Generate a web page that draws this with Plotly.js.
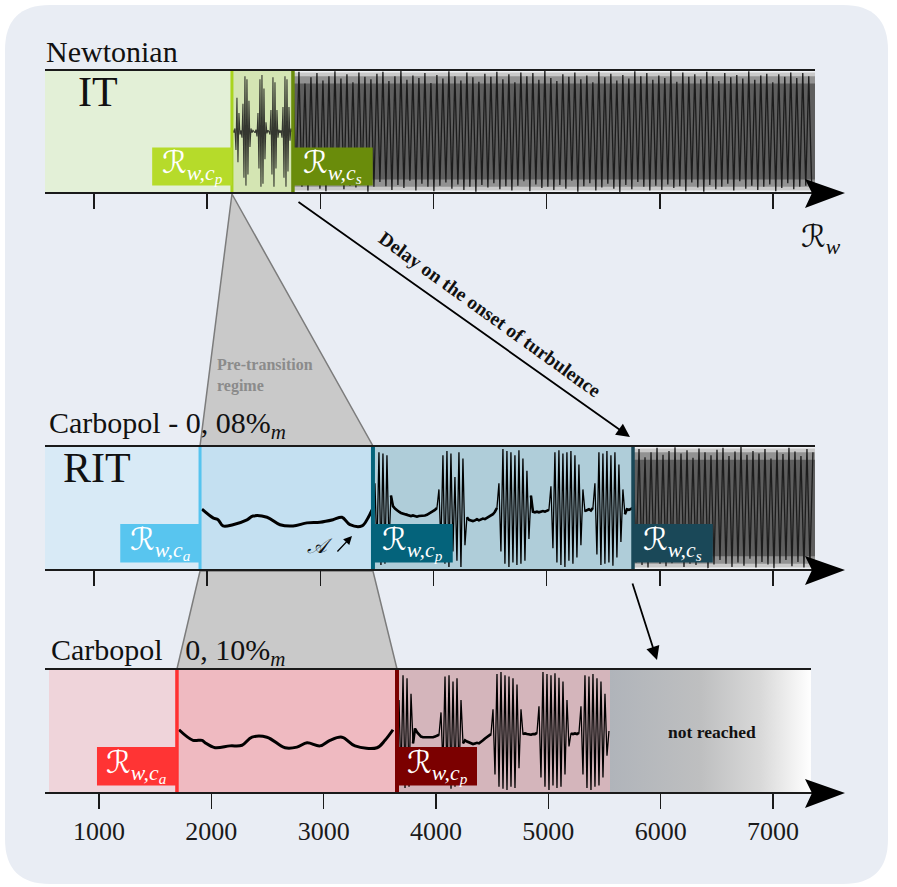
<!DOCTYPE html>
<html><head><meta charset="utf-8">
<script src="https://cdn.plot.ly/plotly-3.0.1.min.js"></script>
<style>html,body{margin:0;padding:0;background:#fff}#chart{width:897px;height:887px}</style>
</head><body><div id="chart"></div>
<script>
// ---------------- DATA ----------------
const tickVals = [1000, 2000, 3000, 4000, 5000, 6000, 7000];
// region boundaries (Rw values)
const newtonianBounds = [567, 2219, 2758, 7371];          // start, Rw,cp, Rw,cs, end
const c008Bounds = [567, 1937, 3465, 5763, 7371];         // start, Rw,ca, Rw,cp, Rw,cs, end
const c010Bounds = [555, 1694, 3653, 5549, 7338];         // start, Rw,ca, Rw,cp, last measured, end

// Newtonian: intermittent bursts between Rw,cp and Rw,cs
const newtIntermittentX0 = 2219, newtIntermittentDx = 8.84;
const newtIntermittentY = [0,0.02,-0.02,0.05,-0.3,0.55,-0.5,0.3,-0.05,0.02,
  -0.1,0.45,-0.75,0.9,-0.88,0.85,-0.7,0.5,-0.25,0.05,
  -0.02,0.02,0,-0.02,0.03,-0.08,0.3,-0.6,0.85,-0.9,
  0.92,-0.85,0.7,-0.45,0.15,-0.03,0.02,0,-0.05,0.35,
  -0.7,0.88,-0.9,0.8,-0.6,0.35,-0.1,0.03,-0.02,0.02,
  -0.1,0.4,-0.75,0.9,-0.9,0.85,-0.65,0.4,-0.15,0.05,0,0];
// Newtonian: turbulent signal after Rw,cs
const newtTurbX0 = 2758, newtTurbDx = 26.5;
const newtTurbY = [0.92,-0.85,0.97,-0.9,0.78,-0.96,0.88,-0.8,0.95,-0.93,
 0.83,-0.97,0.9,-0.86,0.98,-0.79,0.86,-0.94,0.93,-0.88,
 0.8,-0.91,0.96,-0.84,0.89,-0.98,0.85,-0.9,0.94,-0.82,
 0.97,-0.89,0.82,-0.95,0.9,-0.87,0.99,-0.92,0.84,-0.8,
 0.91,-0.96,0.87,-0.85,0.95,-0.9,0.79,-0.97,0.92,-0.88,
 0.86,-0.83,0.98,-0.93,0.9,-0.86,0.83,-0.95,0.96,-0.9,
 0.88,-0.98,0.81,-0.87,0.94,-0.91,0.89,-0.84,0.97,-0.94,
 0.85,-0.89,0.93,-0.96,0.8,-0.88,0.96,-0.81,0.9,-0.97,
 0.95,-0.86,0.84,-0.92,0.99,-0.9,0.87,-0.95,0.82,-0.87,
 0.93,-0.93,0.89,-0.8,0.96,-0.98,0.85,-0.89,0.91,-0.84,
 0.8,-0.96,0.97,-0.91,0.88,-0.85,0.94,-0.93,0.83,-0.99,
 0.92,-0.87,0.86,-0.94,0.98,-0.82,0.9,-0.9,0.95,-0.96,
 0.84,-0.88,0.91,-0.95,0.87,-0.86,0.99,-0.92,0.81,-0.89,
 0.96,-0.97,0.89,-0.83,0.93,-0.91,0.85,-0.98,0.97,-0.87,
 0.9,-0.94,0.82,-0.9,0.95,-0.85,0.88,-0.96,0.92,-0.81,
 0.86,-0.93,0.98,-0.88,0.84,-0.95,0.91,-0.9,0.94,-0.86,
 0.8,-0.97,0.93,-0.92,0.89,-0.84,0.96,-0.94,0.87,-0.9,
 0.95,-0.88,0.9,-0.93];

// Carbopol 0,08%: pre-transition laminar wave (Rw,ca -> Rw,cp)
const c008LamX = [1954,2052,2096,2140,2228,2352,2405,2529,2644,2759,2882,2997,3112,3191,3262,3368,3421,3457];
const c008LamY = [-0.02,-0.16,-0.19,-0.29,-0.27,-0.19,-0.13,-0.15,-0.27,-0.29,-0.24,-0.23,-0.19,-0.15,-0.27,-0.29,-0.16,-0.03];
// Carbopol 0,08%: intermittent bursts (Rw,cp -> Rw,cs)
const c008BurstX0 = 3465, c008BurstDx = 17.67;
const c008BurstY = [-0.03,
 0.4,-0.7,0.9,-0.92,0.88,-0.9,0.85,-0.6,0.2,
 0.03,-0.01,-0.04,-0.06,-0.08,-0.09,-0.1,-0.1,-0.12,-0.13,-0.12,-0.13,-0.14,-0.13,-0.13,-0.12,-0.12,-0.11,-0.09,-0.08,-0.05,-0.03,0.0,
 0.3,-0.6,0.85,-0.9,0.92,-0.95,0.88,-0.7,0.5,-0.85,0.9,-0.95,0.8,-0.6,-0.15,
 -0.19,-0.2,-0.21,-0.2,-0.18,-0.2,-0.19,-0.17,-0.18,-0.16,-0.14,-0.12,-0.1,-0.06,0.0,
 0.4,-0.7,0.95,-0.9,0.92,-0.95,0.9,-0.88,0.85,-0.92,0.93,-0.9,0.8,-0.85,0.6,-0.5,0.2,-0.06,
 -0.07,-0.06,-0.07,-0.06,-0.05,-0.06,-0.05,-0.03,
 0.35,-0.65,0.9,-0.88,0.93,-0.92,0.88,-0.95,0.9,-0.85,0.92,-0.9,0.85,-0.8,0.7,-0.6,0.3,-0.05,
 -0.03,-0.02,-0.04,0.0,
 0.4,-0.75,0.9,-0.92,0.88,-0.9,0.92,-0.88,0.85,-0.93,0.9,-0.8,0.7,-0.55,0.3,-0.1,
 -0.02,-0.03,-0.02,0.0];
// Carbopol 0,08%: turbulent signal after Rw,cs
const c008TurbX0 = 5763, c008TurbDx = 26.5;
const c008TurbY = [0.9,-0.88,0.95,-0.92,0.82,-0.96,0.9,-0.85,0.97,-0.9,
  0.86,-0.94,0.92,-0.89,0.98,-0.83,0.88,-0.95,0.93,-0.9,
  0.81,-0.92,0.96,-0.86,0.9,-0.97,0.85,-0.91,0.94,-0.84,
  0.97,-0.9,0.84,-0.95,0.91,-0.88,0.99,-0.93,0.86,-0.82,
  0.92,-0.96,0.88,-0.87,0.95,-0.91,0.8,-0.97,0.93,-0.89,
  0.87,-0.84,0.97,-0.94,0.91,-0.87,0.84,-0.96,0.95,-0.9,0.9];

// Carbopol 0,10%: pre-transition laminar wave (Rw,ca -> Rw,cp)
const c010LamX = [1712,1837,1917,1944,2033,2166,2273,2362,2495,2656,2762,2852,2967,3056,3163,3279,3475,3546,3617];
const c010LamY = [0.02,-0.15,-0.15,-0.19,-0.27,-0.24,-0.23,-0.10,-0.10,-0.27,-0.26,-0.19,-0.24,-0.15,-0.10,-0.24,-0.27,-0.15,0.02];
// Carbopol 0,10%: intermittent bursts (Rw,cp -> last measured)
const c010BurstX0 = 3653, c010BurstDx = 17.8;
const c010BurstY = [0.02,
 0.5,-0.8,0.9,-0.92,0.85,-0.9,0.6,-0.2,
 0.04,-0.02,-0.06,-0.09,-0.1,-0.1,-0.11,-0.1,-0.1,-0.1,-0.09,-0.08,-0.06,
 0.3,-0.6,0.88,-0.85,0.9,-0.93,0.8,-0.9,0.85,-0.8,0.5,-0.2,
 -0.15,-0.17,-0.18,-0.2,-0.21,-0.2,-0.19,-0.2,-0.18,-0.15,-0.12,-0.1,-0.08,-0.05,
 0.35,-0.7,0.92,-0.9,0.95,-0.93,0.9,-0.95,0.88,-0.9,0.85,-0.92,0.75,-0.6,0.35,-0.05,
 -0.04,-0.05,-0.06,-0.06,-0.05,-0.05,-0.03,
 0.4,-0.75,0.95,-0.9,0.92,-0.95,0.9,-0.88,0.93,-0.92,0.86,-0.9,0.8,-0.7,0.5,-0.25,-0.04,
 -0.05,-0.04,-0.05,-0.03,
 0.4,-0.7,0.9,-0.92,0.88,-0.95,0.92,-0.9,0.85,-0.88,0.8,-0.75,0.6,-0.4,
 0.0];

// ---------------- LAYOUT HELPERS ----------------
const W = 897, H = 887;
const px = x => x / W;
const py = y => 1 - y / H;
const rangeTop = [169.4, 8095.7];
const rangeBot = [118.7, 8103.9];
const d2px = (d, r) => (d - r[0]) / (r[1] - r[0]) * W;
const FONT = '"Liberation Serif", "Times New Roman", serif';

function rr(x0, y0, x1, y1, r) {
  return `M ${px(x0+r)},${py(y0)} L ${px(x1-r)},${py(y0)} Q ${px(x1)},${py(y0)} ${px(x1)},${py(y0+r)} ` +
    `L ${px(x1)},${py(y1-r)} Q ${px(x1)},${py(y1)} ${px(x1-r)},${py(y1)} L ${px(x0+r)},${py(y1)} ` +
    `Q ${px(x0)},${py(y1)} ${px(x0)},${py(y1-r)} L ${px(x0)},${py(y0+r)} Q ${px(x0)},${py(y0)} ${px(x0+r)},${py(y0)} Z`;
}
function poly(pts) {
  return 'M ' + pts.map(p => `${px(p[0])},${py(p[1])}`).join(' L ') + ' Z';
}

const shapes = [];
// page background
shapes.push({type:'path', xref:'paper', yref:'paper', layer:'below', path: rr(5, 5, 888, 884, 45),
  fillcolor:'#e9edf4', line:{width:0}});

function region(ax, x0, x1, color, yy0, yy1) {
  shapes.push({type:'rect', xref:'x'+ax, yref:'y'+ax+' domain', x0:x0, x1:x1,
    y0:(yy0===undefined?0:yy0), y1:(yy1===undefined?1:yy1),
    fillcolor:color, line:{width:0}, layer:'below'});
}
function vline(ax, x, color, w) {
  shapes.push({type:'line', xref:'x'+ax, yref:'y'+ax+' domain', x0:x, x1:x, y0:0, y1:1,
    line:{color:color, width:w}, layer:'above'});
}
const annotations = [];
const LABW = 705;
function label(ax, x0, x1, color, sub) {
  shapes.push({type:'rect', xref:'x'+ax, yref:'y'+ax+' domain', x0:x0, x1:x1, y0:0.06, y1:0.37,
    fillcolor:color, line:{width:0}, layer:'above'});
  annotations.push({xref:'x'+ax, yref:'y'+ax+' domain', x:(x0+x1)/2, y:0.225, showarrow:false,
    text:'<span style="font-family:DejaVu Sans">ℛ</span><sub><i>w,c<sub>'+sub+'</sub></i></sub>',
    font:{family:FONT, size:31, color:'#ffffff'}, xanchor:'center', yanchor:'middle'});
}
// turbulent texture bands (styling behind the dense signal)
function turbBands(ax, x0, x1) {
  region(ax, x0, x1, '#eef0f3');
  region(ax, x0, x1, '#c9c9c9', 0.02, 0.98);
  region(ax, x0, x1, '#929292', 0.05, 0.95);
  region(ax, x0, x1, '#5e5e5e', 0.11, 0.89);
}

// top panel (Newtonian)
region('', newtonianBounds[0], newtonianBounds[1], '#e3f0d7');
region('', newtonianBounds[1], newtonianBounds[2], '#d4e5b3');
turbBands('', newtonianBounds[2], newtonianBounds[3]);
// middle panel (Carbopol 0,08%)
region('2', c008Bounds[0], c008Bounds[1], '#d8eaf6');
region('2', c008Bounds[1], c008Bounds[2], '#c4e0f1');
region('2', c008Bounds[2], c008Bounds[3], '#afcdd9');
turbBands('2', c008Bounds[3], c008Bounds[4]);
// bottom panel (Carbopol 0,10%)
region('3', c010Bounds[0], c010Bounds[1], '#efd4da');
region('3', c010Bounds[1], c010Bounds[2], '#efbac1');
region('3', c010Bounds[2], c010Bounds[3], '#d4b5bb');

// zoom triangles
const apex = d2px(newtonianBounds[1], rangeTop);
const m1 = d2px(c008Bounds[1], rangeTop), m2 = d2px(c008Bounds[2], rangeTop);
const b1 = d2px(c010Bounds[1], rangeBot), b2 = d2px(c010Bounds[2], rangeBot);
shapes.push({type:'path', xref:'paper', yref:'paper', layer:'below',
  path: poly([[apex,194],[m2,446],[m1,446]]), fillcolor:'#c9c9c9', line:{color:'#7c7c7c', width:1.5}});
shapes.push({type:'path', xref:'paper', yref:'paper', layer:'below',
  path: poly([[m1,571],[m2,571],[b2,669],[b1,669]]), fillcolor:'#c9c9c9', line:{color:'#7c7c7c', width:1.5}});

// vertical boundary lines
vline('', newtonianBounds[1], '#a9d41e', 3);
vline('', newtonianBounds[2], '#6a8c0c', 3.5);
vline('2', c008Bounds[1], '#56c4ef', 3);
vline('2', c008Bounds[2], '#04637b', 4);
vline('2', c008Bounds[3], '#1a4858', 3.5);
vline('3', c010Bounds[1], '#ff3030', 3.5);
vline('3', c010Bounds[2], '#7a0000', 4);

// label boxes
label('', newtonianBounds[1]-LABW, newtonianBounds[1], '#b6db2a', 'p');
label('', newtonianBounds[2], newtonianBounds[2]+LABW, '#6a8c0b', 's');
label('2', c008Bounds[1]-LABW, c008Bounds[1], '#58c5ef', 'a');
label('2', c008Bounds[2], c008Bounds[2]+LABW, '#04637b', 'p');
label('2', c008Bounds[3], c008Bounds[3]+LABW, '#1a4858', 's');
label('3', c010Bounds[1]-712, c010Bounds[1], '#ff3434', 'a');
label('3', c010Bounds[2], c010Bounds[2]+712, '#7b0000', 'p');

// panel frames (top border, axis line, arrow head)
function frame(yTop, yAx, xEndTop) {
  shapes.push({type:'line', xref:'paper', yref:'paper', x0:px(45), x1:px(xEndTop), y0:py(yTop), y1:py(yTop),
    line:{color:'#1a1a1a', width:2}, layer:'above'});
  shapes.push({type:'line', xref:'paper', yref:'paper', x0:px(45), x1:px(812), y0:py(yAx), y1:py(yAx),
    line:{color:'#1a1a1a', width:2}, layer:'above'});
  shapes.push({type:'path', xref:'paper', yref:'paper', layer:'above',
    path: poly([[845,yAx],[805,yAx-14],[812,yAx],[805,yAx+15]]), fillcolor:'#000000', line:{width:0}});
}
frame(70, 193, 815);
frame(446, 570, 815);
frame(669, 793, 811);

// texts
function txt(x, y, text, size, opts) {
  annotations.push(Object.assign({xref:'paper', yref:'paper', x:px(x), y:py(y), text:text, showarrow:false,
    xanchor:'left', yanchor:'middle', font:{family:FONT, size:size, color:'#111111'}}, opts||{}));
}
txt(44, 52, 'Newtonian', 30);
txt(76, 92, 'IT', 42);
txt(47, 425, 'Carbopol - 0, 08%<sub><i>m</i></sub>', 30);
txt(61, 468, 'RIT', 42);
txt(49, 652, 'Carbopol\u00a0\u00a0\u00a00, 10%<sub><i>m</i></sub>', 30);
txt(215, 375, '<b>Pre-transition<br>regime</b>', 16, {font:{family:FONT, size:16, color:'#8b8b8b'}, align:'left'});
txt(490, 314, '<b>Delay on the onset of turbulence</b>', 19.5, {xanchor:'center', textangle:35.8});
txt(712, 732, '<b>not reached</b>', 17.5, {xanchor:'center'});
txt(821, 238, '<span style="font-family:DejaVu Sans">ℛ</span><sub><i>w</i></sub>', 31, {xanchor:'center'});
txt(320, 546, '<i>𝒜</i>', 21, {xanchor:'center'});

// arrows
function arrow(x0, y0, x1, y1, w, s) {
  annotations.push({xref:'paper', yref:'paper', x:px(x1), y:py(y1), ax:x0-x1, ay:y0-y1, text:'',
    showarrow:true, arrowhead:2, arrowsize:s, arrowwidth:w, arrowcolor:'#000000', standoff:0, startstandoff:0});
}
arrow(297, 201, 630, 437, 1.8, 1.5);
arrow(632, 582, 657, 660, 1.8, 1.5);
arrow(336, 553, 352, 536, 1.3, 1.3);

// ---------------- TRACES ----------------
const thickOnly = arr => arr.map(v => Math.abs(v) < 0.25 ? v : null);
const traces = [
  {x0:newtIntermittentX0, dx:newtIntermittentDx, y:newtIntermittentY, xaxis:'x', yaxis:'y',
    mode:'lines', line:{color:'rgba(25,25,25,0.85)', width:1.1}},
  {x0:newtTurbX0, dx:newtTurbDx, y:newtTurbY, xaxis:'x', yaxis:'y',
    mode:'lines', line:{color:'#1c1c1c', width:1.3}},
  {x:c008LamX, y:c008LamY, xaxis:'x2', yaxis:'y2', mode:'lines',
    line:{color:'#000000', width:3, shape:'spline', smoothing:1}},
  {x0:c008BurstX0, dx:c008BurstDx, y:c008BurstY, xaxis:'x2', yaxis:'y2',
    mode:'lines', line:{color:'#000000', width:1.3}},
  {x0:c008BurstX0, dx:c008BurstDx, y:thickOnly(c008BurstY), xaxis:'x2', yaxis:'y2',
    mode:'lines', line:{color:'#000000', width:2.6}, connectgaps:false},
  {x0:c008TurbX0, dx:c008TurbDx, y:c008TurbY, xaxis:'x2', yaxis:'y2',
    mode:'lines', line:{color:'#1c1c1c', width:1.3}},
  {x:[c010Bounds[3], c010Bounds[4], c010Bounds[4], c010Bounds[3], c010Bounds[3]], y:[-1,-1,1,1,-1],
    xaxis:'x3', yaxis:'y3', mode:'lines', fill:'toself', line:{width:0, color:'rgba(0,0,0,0)'},
    fillgradient:{type:'horizontal', colorscale:[[0,'#b0b4ba'],[0.45,'#bebfc0'],[0.75,'#d9d9d9'],[1,'#ffffff']]}},
  {x:c010LamX, y:c010LamY, xaxis:'x3', yaxis:'y3', mode:'lines',
    line:{color:'#000000', width:3, shape:'spline', smoothing:1}},
  {x0:c010BurstX0, dx:c010BurstDx, y:c010BurstY, xaxis:'x3', yaxis:'y3',
    mode:'lines', line:{color:'#000000', width:1.3}},
  {x0:c010BurstX0, dx:c010BurstDx, y:thickOnly(c010BurstY), xaxis:'x3', yaxis:'y3',
    mode:'lines', line:{color:'#000000', width:2.6}, connectgaps:false}
];
traces.forEach(t => { t.hoverinfo = 'skip'; t.showlegend = false; });

const xBase = {showline:false, showgrid:false, zeroline:false, ticks:'outside', ticklen:15, tickwidth:1.6,
  tickcolor:'#1a1a1a', tickmode:'array', tickvals:tickVals, fixedrange:true};
const yBase = {range:[-1,1], visible:false, fixedrange:true};

const layout = {
  width:W, height:H, margin:{l:0, r:0, t:0, b:0},
  paper_bgcolor:'#ffffff', plot_bgcolor:'rgba(0,0,0,0)', showlegend:false,
  xaxis: Object.assign({}, xBase, {domain:[0,1], range:rangeTop, anchor:'y', showticklabels:false}),
  yaxis: Object.assign({}, yBase, {domain:[py(193), py(70)], anchor:'x'}),
  xaxis2: Object.assign({}, xBase, {domain:[0,1], range:rangeTop, anchor:'y2', showticklabels:false}),
  yaxis2: Object.assign({}, yBase, {domain:[py(570), py(446)], anchor:'x2'}),
  xaxis3: Object.assign({}, xBase, {domain:[0,1], range:rangeBot, anchor:'y3', showticklabels:true,
    tickfont:{family:FONT, size:26, color:'#1a1a1a'}}),
  yaxis3: Object.assign({}, yBase, {domain:[py(793), py(669)], anchor:'x3'}),
  shapes: shapes,
  annotations: annotations
};

Plotly.newPlot('chart', traces, layout, {staticPlot:true, displayModeBar:false});
</script></body></html>
